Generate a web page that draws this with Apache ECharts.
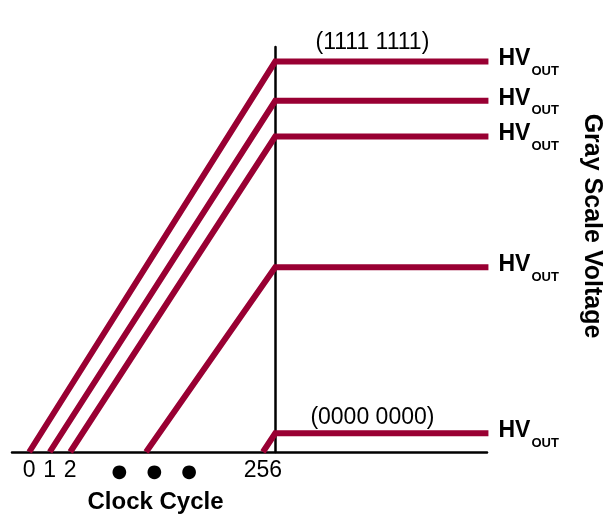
<!DOCTYPE html>
<html>
<head>
<meta charset="utf-8">
<script src="https://cdn.jsdelivr.net/npm/echarts@6/dist/echarts.min.js"></script>
<style>
    html, body { margin: 0; padding: 0; background: #fff; }
    #chart { width: 603px; height: 516px; }
</style>
</head>
<body>
<div id="chart"></div>
<script>
    // clock axis: schematic positions of the tick labels (0, 1, 2, ..., 256)
    const clockTicks = [-12, -11, -10, -7.6, -5.9, -4.2, -0.6];
    const clockLabels = ["0", "1", "2", "●", "●", "●", "256"];

    // each ramp starts on the clock axis and climbs to its gray level
    const rampStart = [-12, -11, -10, -6.3, -0.6];
    const levels = [96.4, 86.7, 77.9, 45.6, 4.6];
    const lineEnd = 10.4;

    // binary codes shown above the top and bottom levels
    const codeLabels = ["(1111 1111)", "", "", "", "(0000 0000)"];
    const codeX = 4.74;

    const red = "#990033";
    const font = "Liberation Sans, Arial, sans-serif";

    let chart = echarts.init(document.getElementById("chart"));

    let series = levels.map((lvl, i) => {
        let s = {
            type: "line",
            clip: false,
            symbol: "none",
            silent: true,
            animation: false,
            data: [[rampStart[i], 0], [0, lvl], [lineEnd, lvl]],
            lineStyle: { color: red, width: 6, cap: "butt", join: "miter" },
            endLabel: {
                show: true,
                distance: 10,
                formatter: "{hv|HV}{out|OUT}",
                rich: {
                    hv: { fontFamily: font, fontSize: 23, fontWeight: "bold", color: "#000",
                        lineHeight: 24, padding: [0, 0, 5, 0], verticalAlign: "middle" },
                    out: { fontFamily: font, fontSize: 13, fontWeight: "bold", color: "#000",
                        lineHeight: 13, padding: [20, 0, 0, 1], verticalAlign: "middle" }
                }
            }
        };
        if (codeLabels[i]) {
            s.markPoint = {
                symbol: "circle",
                symbolSize: 0,
                silent: true,
                label: {
                    show: true,
                    position: "top",
                    distance: i === 0 ? 7 : 4,
                    fontFamily: font,
                    fontSize: 23,
                    color: "#000",
                    formatter: codeLabels[i]
                },
                data: [{ coord: [codeX, lvl] }]
            };
        }
        return s;
    });

    let option = {
        animation: false,
        grid: { left: 12, right: 116, top: 47, bottom: 64 },
        xAxis: {
            type: "value",
            min: -12.84,
            max: 10.33,
            splitLine: { show: false },
            axisTick: { show: false },
            axisLine: { lineStyle: { color: "#000", width: 2.5 } },
            axisLabel: {
                customValues: clockTicks,
                margin: 7,
                fontFamily: font,
                fontSize: 23,
                color: "#000",
                formatter: (v) => {
                    let i = clockTicks.findIndex((t) => Math.abs(t - v) < 1e-6);
                    let txt = i < 0 ? "" : clockLabels[i];
                    return txt === "●" ? "{dot|●}" : txt;
                },
                rich: {
                    dot: { fontFamily: "DejaVu Sans", fontSize: 18, color: "#000", padding: [4, 0, 0, 0] }
                }
            }
        },
        yAxis: {
            type: "value",
            min: 0,
            max: 100,
            splitLine: { show: false },
            axisTick: { show: false },
            axisLabel: { show: false },
            axisLine: { show: true, onZero: true, lineStyle: { color: "#000", width: 2.5 } }
        },
        graphic: [
            {
                type: "text",
                x: 155.5,
                y: 502,
                style: {
                    text: "Clock Cycle",
                    fontFamily: font,
                    fontSize: 24,
                    fontWeight: "bold",
                    fill: "#000",
                    textAlign: "center",
                    textVerticalAlign: "middle"
                }
            },
            {
                type: "text",
                x: 592,
                y: 226,
                rotation: -Math.PI / 2,
                style: {
                    text: "Gray Scale Voltage",
                    fontFamily: font,
                    fontSize: 25,
                    fontWeight: "bold",
                    fill: "#000",
                    textAlign: "center",
                    textVerticalAlign: "middle"
                }
            }
        ],
        series: series
    };

    chart.setOption(option);
</script>
</body>
</html>
